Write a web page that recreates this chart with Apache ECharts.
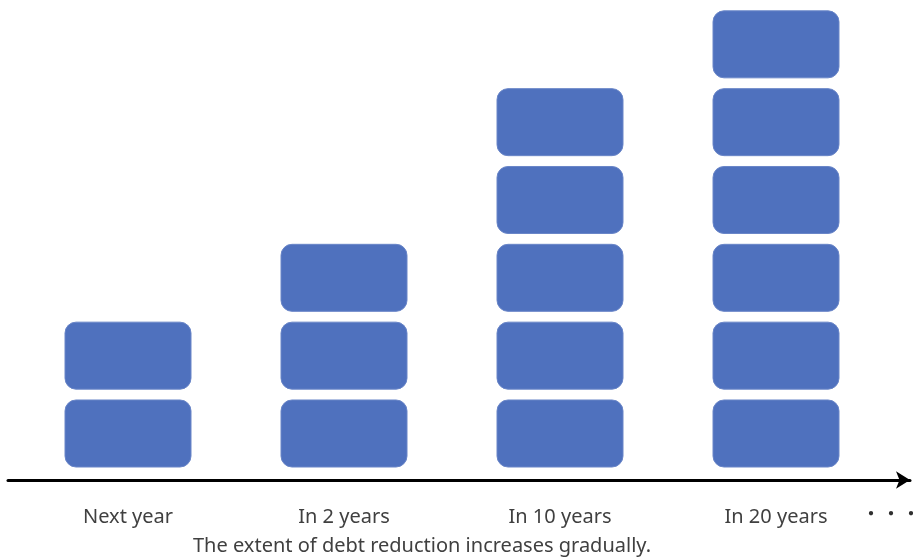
<!DOCTYPE html>
<html>
<head>
<meta charset="utf-8">
<script src="https://cdn.jsdelivr.net/npm/echarts@6/dist/echarts.min.js"></script>
<style>
html,body{margin:0;padding:0;background:#fff;}
#chart{width:913px;height:558px;}
</style>
</head>
<body>
<div id="chart"></div>
<script>
// Data
var categories = ['Next year', 'In 2 years', 'In 10 years', 'In 20 years'];
var blockCounts = [2, 3, 5, 6];
var caption = 'The extent of debt reduction increases gradually.';
var continuation = '・・・';

var blocks = [];
for (var i = 0; i < categories.length; i++) {
  for (var k = 0; k < blockCounts[i]; k++) blocks.push([i, k]);
}

var TEXT = '#404040';
var chart = echarts.init(document.getElementById('chart'), null, {renderer: 'canvas'});
chart.setOption({
  backgroundColor: '#ffffff',
  animation: false,
  title: {
    text: caption,
    left: 193, top: 536, padding: 0,
    textStyle: {fontFamily: 'Noto Sans', fontSize: 20, fontWeight: 'normal', color: TEXT}
  },
  grid: [
    {left: 20, right: 29, top: 0, bottom: 91},
    {left: 8, right: 3, top: 0, bottom: 78}
  ],
  xAxis: [
    {
      type: 'category', data: categories, gridIndex: 0,
      axisLine: {show: false}, axisTick: {show: false},
      axisLabel: {margin: 40, fontFamily: 'Noto Sans', fontSize: 20, color: TEXT}
    },
    {
      type: 'value', gridIndex: 1, min: 0, max: 1,
      axisLine: {show: true, lineStyle: {color: '#000', width: 3}, symbol: ['none', 'arrow'], symbolSize: [13, 14]},
      axisTick: {show: false}, axisLabel: {show: false}, splitLine: {show: false}
    }
  ],
  yAxis: [
    {type: 'value', gridIndex: 0, min: 0, max: 6, show: false},
    {type: 'value', gridIndex: 1, min: 0, max: 1, show: false}
  ],
  graphic: [{
    type: 'text', left: 861, top: 503,
    style: {text: continuation, font: '20px "Noto Sans CJK JP"', fill: '#303030'}
  }],
  series: [{
    type: 'custom',
    xAxisIndex: 0, yAxisIndex: 0,
    data: blocks,
    renderItem: function (params, api) {
      var cat = api.value(0), lvl = api.value(1);
      var p0 = api.coord([cat, lvl]);
      var p1 = api.coord([cat, lvl + 0.861]);
      var w = 126;
      return {
        type: 'rect',
        shape: {x: p0[0] - w / 2, y: p1[1], width: w, height: p0[1] - p1[1], r: 11},
        style: {fill: '#4F71BE', stroke: '#6A86C8', lineWidth: 1}
      };
    }
  }]
});
</script>
</body>
</html>
